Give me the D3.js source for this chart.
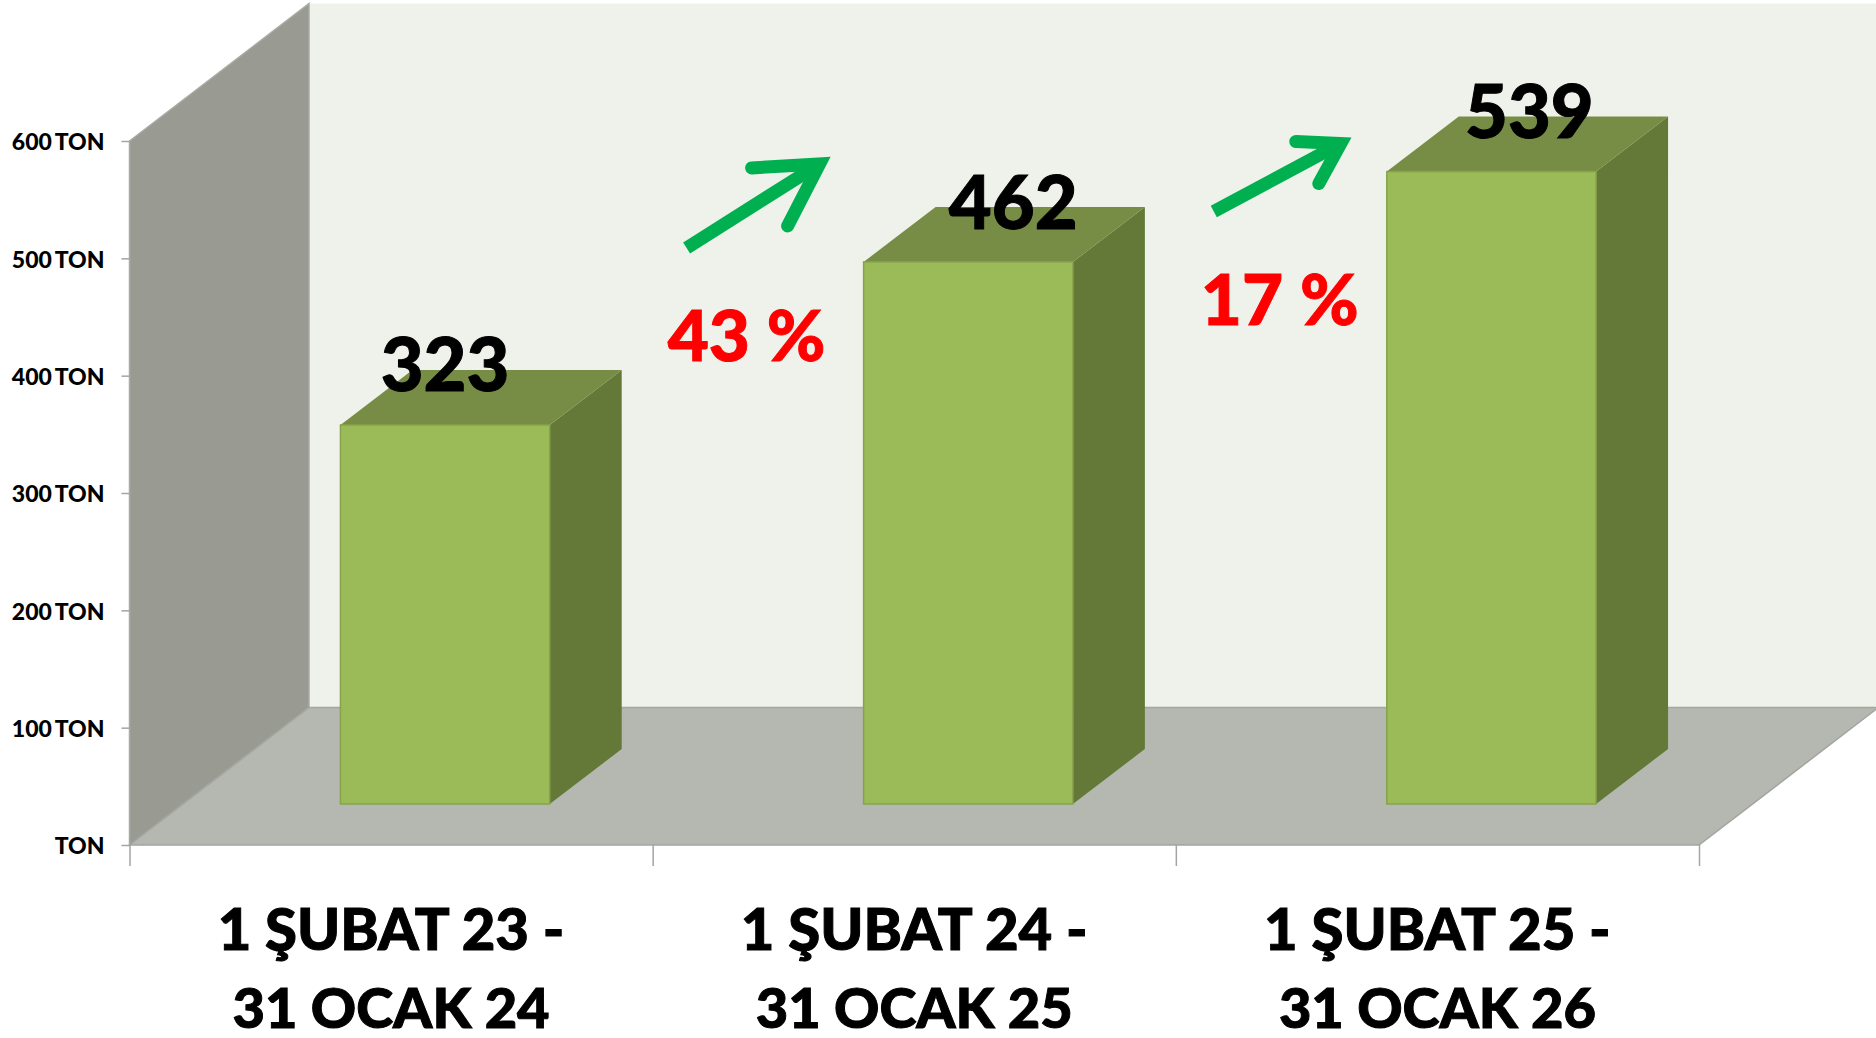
<!DOCTYPE html>
<html>
<head>
<meta charset="utf-8">
<script src="https://cdn.jsdelivr.net/npm/d3@7"></script>
<style>
    html, body { margin: 0; padding: 0; background: #fff; overflow: hidden; }
    text { font-family: Lato, "Open Sans", sans-serif; font-weight: 900; }
    .y-axis text { font-size: 23px; word-spacing: -2px; }
    .y-axis path, .x-axis path { display: none; }
    .y-axis line, .x-axis line { stroke: #a3a5a0; stroke-width: 1.5; }
    .cat, .value { stroke: #000; stroke-width: 1px; }
    .growth { stroke: #ff0000; stroke-width: 1px; }
</style>
</head>
<body>
<div class="chart"></div>
<script>
// values
var categories = ["1 ŞUBAT 23 -|31 OCAK 24", "1 ŞUBAT 24 -|31 OCAK 25", "1 ŞUBAT 25 -|31 OCAK 26"];
var tons = [323, 462, 539];
var growth = ["43 %", "17 %"];
var yTicks = [0, 100, 200, 300, 400, 500, 600];

var svgWidth = 1876;
var svgHeight = 1038;

var svg = d3.select(".chart")
    .append("svg")
    .attr("width", svgWidth)
    .attr("height", svgHeight)
    .style("display", "block");

// Front plane of the 3D box
var left = 129.5, right = 1699, bottom = 845, top600 = 141;
var depth = { x: 179.5, y: -137.5 };          // full box depth
var barInset = { x: 54, y: -41 };             // bars stand this far into the floor
var barDepth = { x: 72, y: -55 };

var yScale = d3.scaleLinear().domain([0, 600]).range([bottom, top600]);
var xBand = d3.scaleBand().domain(d3.range(categories.length)).range([left, right]);
var xEdges = d3.scaleLinear().domain([0, categories.length]).range([left, right]);
var barWidth = xBand.bandwidth() * 0.4;

function poly(points) {
    return d3.line()(points) + "Z";
}

// Back wall, side wall, floor
var box = svg.append("g");
box.append("rect")
    .attr("x", left + depth.x)
    .attr("y", yScale(600) + depth.y)
    .attr("width", svgWidth - left - depth.x)
    .attr("height", bottom - yScale(600))
    .attr("fill", "#eff2eb");
box.append("path")
    .attr("d", poly([[left, yScale(600)], [left + depth.x, yScale(600) + depth.y],
        [left + depth.x, bottom + depth.y], [left, bottom]]))
    .attr("fill", "#999b93")
    .attr("stroke", "#a9aba5")
    .attr("stroke-width", 1.5);
box.append("path")
    .attr("d", poly([[left, bottom], [left + depth.x, bottom + depth.y],
        [right + depth.x, bottom + depth.y], [right, bottom]]))
    .attr("fill", "#b5b8b0")
    .attr("stroke", "#a3a5a0")
    .attr("stroke-width", 1.5);

// Bars: side, top, front
var bars = svg.selectAll(".bar")
    .data(tons)
    .enter()
    .append("g")
    .attr("class", "bar");

function barX(i) {
    return xBand(i) + xBand.bandwidth() / 2 + barInset.x - barWidth / 2;
}
function barTop(d) {
    return yScale(d) + barInset.y;
}
var barBottom = yScale(0) + barInset.y;

bars.append("path")
    .attr("d", (d, i) => poly([[barX(i) + barWidth, barTop(d)],
        [barX(i) + barWidth + barDepth.x, barTop(d) + barDepth.y],
        [barX(i) + barWidth + barDepth.x, barBottom + barDepth.y],
        [barX(i) + barWidth, barBottom]]))
    .attr("fill", "#647937");
bars.append("path")
    .attr("d", (d, i) => poly([[barX(i), barTop(d)],
        [barX(i) + barDepth.x, barTop(d) + barDepth.y],
        [barX(i) + barWidth + barDepth.x, barTop(d) + barDepth.y],
        [barX(i) + barWidth, barTop(d)]]))
    .attr("fill", "#778d45");
bars.append("rect")
    .attr("x", (d, i) => barX(i))
    .attr("y", d => barTop(d))
    .attr("width", barWidth)
    .attr("height", d => barBottom - barTop(d))
    .attr("fill", "#9bbb59")
    .attr("stroke", "#86a34c")
    .attr("stroke-width", 1.5);

// Axes
svg.append("g")
    .attr("class", "y-axis")
    .attr("transform", `translate(${left}, 0)`)
    .call(d3.axisLeft(yScale)
        .tickValues(yTicks)
        .tickSize(8)
        .tickPadding(17)
        .tickFormat(d => d ? d + " TON" : "TON"))
    .selectAll("text")
    .attr("y", 1.5)
    .attr("fill", "#000");

svg.append("g")
    .attr("class", "x-axis")
    .attr("transform", `translate(0, ${bottom})`)
    .call(d3.axisBottom(xEdges).tickValues(d3.range(categories.length + 1)).tickSize(21).tickFormat(""));

// Category labels, two lines each
var catLabels = svg.selectAll(".cat")
    .data(categories)
    .enter()
    .append("text")
    .attr("class", "cat")
    .attr("text-anchor", "middle")
    .attr("fill", "#000");
catLabels.append("tspan")
    .attr("font-size", 58)
    .attr("x", (d, i) => xBand(i) + xBand.bandwidth() / 2)
    .attr("y", bottom + 105)
    .text(d => d.split("|")[0]);
catLabels.append("tspan")
    .attr("font-size", 56)
    .attr("x", (d, i) => xBand(i) + xBand.bandwidth() / 2)
    .attr("y", bottom + 183)
    .text(d => d.split("|")[1]);

// Value labels were placed by hand on the original slide, so each has its own nudge
var valueNudge = [[0, -34], [45, -33], [38, -34]];
svg.selectAll(".value")
    .data(tons)
    .enter()
    .append("text")
    .attr("class", "value")
    .attr("text-anchor", "middle")
    .attr("font-size", 74)
    .attr("fill", "#000")
    .attr("x", (d, i) => barX(i) + barWidth / 2 + valueNudge[i][0])
    .attr("y", (d, i) => barTop(d) + valueNudge[i][1])
    .text(d => d);

// Growth labels sit between neighbouring bars
var growthNudge = [[-117, 99], [-107, 153]];
svg.selectAll(".growth")
    .data(growth)
    .enter()
    .append("text")
    .attr("class", "growth")
    .attr("text-anchor", "middle")
    .attr("font-size", 71)
    .attr("fill", "#ff0000")
    .attr("x", (d, i) => barX(i + 1) + growthNudge[i][0])
    .attr("y", (d, i) => barTop(tons[i + 1]) + growthNudge[i][1])
    .text(d => d);

// Green arrows, relative to the bar on their right
var arrowTail = [[-177, -14], [-173, 40]];
var arrowTip = [[-44, -98], [-46, -28]];
var barbA = [[-112, -94], [-91, -30]];
var barbB = [[-76, -36], [-68, 12]];
var arrows = svg.selectAll(".arrow")
    .data(growth)
    .enter()
    .append("g")
    .attr("class", "arrow")
    .attr("transform", (d, i) => `translate(${barX(i + 1)}, ${barTop(tons[i + 1])})`)
    .attr("fill", "none")
    .attr("stroke", "#00b050")
    .attr("stroke-width", 13);
arrows.append("path")
    .attr("d", (d, i) => d3.line()([arrowTail[i], arrowTip[i]]));
arrows.append("path")
    .attr("stroke-linecap", "round")
    .attr("stroke-linejoin", "miter")
    .attr("stroke-miterlimit", 6)
    .attr("d", (d, i) => d3.line()([barbA[i], arrowTip[i], barbB[i]]));
</script>
</body>
</html>
